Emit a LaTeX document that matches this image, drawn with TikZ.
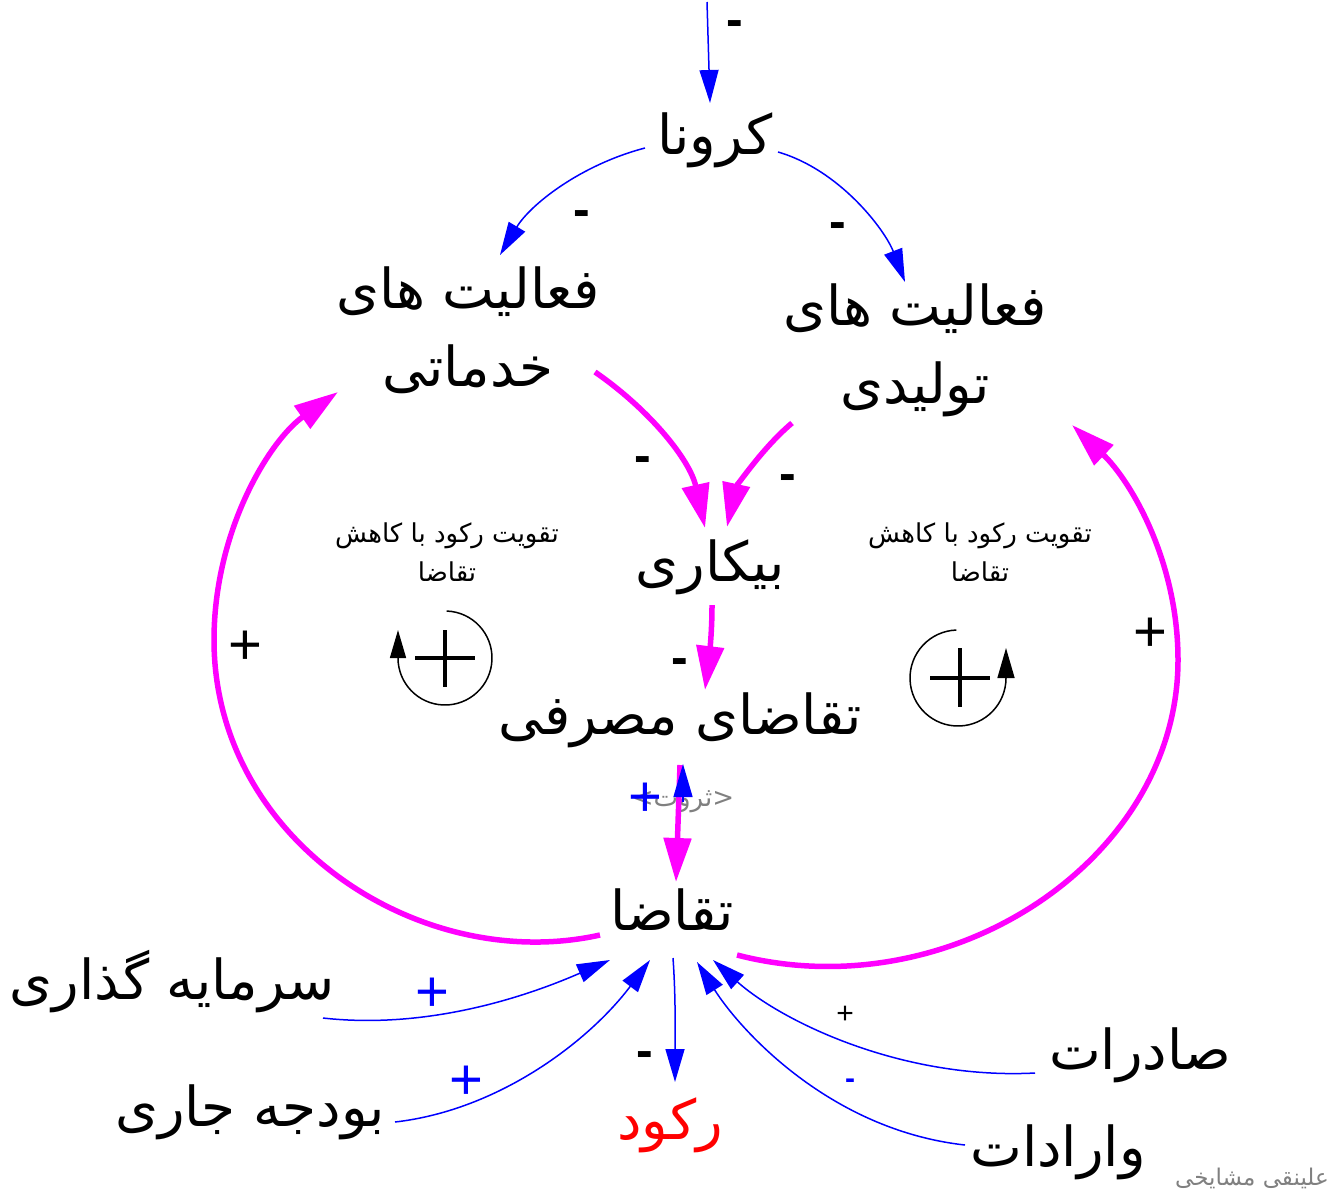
\documentclass[tikz,border=0pt]{standalone}
\usepackage{fontspec}
\setmainfont{Liberation Sans}
\newfontfamily\farsi[Script=Arabic]{DejaVu Sans}
\TeXXeTstate=1
\usetikzlibrary{arrows.meta,calc}
\definecolor{loopmag}{RGB}{255,0,255}
\definecolor{linkblue}{RGB}{0,0,255}
\newcommand{\rtl}[1]{\beginR #1\endR}

\begin{document}
\begin{tikzpicture}[x=1pt,y=-1pt,
    var/.style={font=\farsi\fontsize{55}{78}\selectfont,align=center,inner sep=0pt},
    note/.style={font=\farsi\fontsize{26}{39}\selectfont,align=center,inner sep=0pt},
    shadow/.style={font=\farsi\fontsize{#1}{#1}\selectfont,text=gray,inner sep=0pt},
    blink/.style={draw=linkblue,line width=1.5pt,-{Triangle[length=33pt,width=19pt]}},
    mlink/.style={draw=loopmag,line width=5.5pt,-{Triangle[length=44pt,width=27pt]}},
    minus/.style={font=\bfseries\fontsize{50}{50}\selectfont,inner sep=0pt},
    plus/.style={font=\fontsize{58}{58}\selectfont,inner sep=0pt}]
    \useasboundingbox (0,0) rectangle (1332,1192);

    \node[var] (korona) at (715,140) {\rtl{کرونا}};
    \node[var] (khadamat) at (468,330) {\rtl{فعالیت های}\\\rtl{خدماتی}};
    \node[var] (tolidi) at (915,350) {\rtl{فعالیت های}\\\rtl{تولیدی}};
    \node[var] (bikari) at (710,567) {\rtl{بیکاری}};
    \node[var] (masrafi) at (680,720) {\rtl{تقاضای مصرفی}};
    \node[var] (taghaza) at (672,910) {\rtl{تقاضا}};
    \node[shadow=26] (tharvat) at (683,802) {\rtl{<ثروت>}};
    \node[var] (sarmaye) at (172,982) {\rtl{سرمایه گذاری}};
    \node[var] (budje) at (250,1112) {\rtl{بودجه جاری}};
    \node[var,text=red] (rokud) at (670,1125) {\rtl{رکود}};
    \node[var] (saderat) at (1140,1055) {\rtl{صادرات}};
    \node[var] (varedat) at (1058,1152) {\rtl{وارادات}};
    \node[note] (loopL) at (447,552) {\rtl{تقویت رکود با کاهش}\\\rtl{تقاضا}};
    \node[note] (loopR) at (980,552) {\rtl{تقویت رکود با کاهش}\\\rtl{تقاضا}};
    \node[shadow=23] (name) at (1252,1178) {\rtl{علینقی مشایخی}};
    \coordinate (top) at (707,2);

    % corona and the two kinds of activity
    \draw[blink] (top) -- ($(korona)+(-5,-37)$);
    \draw[blink] ($(korona)+(-70,8)$) .. controls (580,165) and (530,205) .. ($(khadamat)+(32,-75)$);
    \draw[blink] ($(korona)+(63,12)$) .. controls (840,170) and (885,230) .. ($(tolidi)+(-10,-68)$);

    % inner chain
    \draw[mlink] ($(khadamat)+(127,42)$) .. controls (650,410) and (690,460) .. ($(bikari)+(-5,-39)$);
    \draw[mlink] ($(tolidi)+(-123,73)$) .. controls (760,450) and (735,490) .. ($(bikari)+(17,-40)$);
    \draw[mlink] ($(bikari)+(2,38)$) .. controls (712,640) and (708,665) .. ($(masrafi)+(25,-30)$);
    \draw[mlink] ($(masrafi)+(0,45)$) -- ($(taghaza)+(4,-28)$);
    \draw[blink] (tharvat.center) -- ($(masrafi)+(3,44)$);

    % the two big loops
    \draw[mlink] ($(taghaza)+(-72,25)$) .. controls (420,975) and (214,840) .. (214,640)
        .. controls (214,530) and (270,440) .. ($(khadamat)+(-130,62)$);
    \draw[mlink] ($(taghaza)+(65,45)$) .. controls (950,1010) and (1178,860) .. (1178,660)
        .. controls (1178,560) and (1130,480) .. ($(tolidi)+(157,75)$);

    % outside inputs
    \draw[blink] ($(sarmaye)+(151,36)$) .. controls (430,1030) and (530,995) .. ($(taghaza)+(-62,50)$);
    \draw[blink] ($(budje)+(145,10)$) .. controls (500,1110) and (590,1040) .. ($(taghaza)+(-22,50)$);
    \draw[blink] ($(taghaza)+(1,48)$) .. controls (676,1000) and (675,1040) .. ($(rokud)+(5,-43)$);
    \draw[blink] ($(saderat)+(-105,18)$) .. controls (900,1080) and (780,1020) .. ($(taghaza)+(41,50)$);
    \draw[blink] ($(varedat)+(-93,-7)$) .. controls (830,1130) and (740,1030) .. ($(taghaza)+(25,52)$);

    % polarities
    \node[minus] at (735,29) {-};
    \node[minus] at (582,219) {-};
    \node[minus] at (838,231) {-};
    \node[minus] at (643,465) {-};
    \node[minus] at (788,483) {-};
    \node[minus] at (680,667) {-};
    \node[minus] at (645,1060) {-};
    \node[plus] at (245,648) {+};
    \node[plus] at (1150,635) {+};
    \node[plus,text=linkblue] at (645,800) {+};
    \node[plus,text=linkblue] at (432,995) {+};
    \node[plus,text=linkblue] at (466,1083) {+};
    \node[font=\fontsize{30}{30}\selectfont,inner sep=0pt] at (845,1015) {+};
    \node[font=\bfseries\fontsize{30}{30}\selectfont,inner sep=0pt,text=linkblue] at (850,1084) {-};

    % loop markers
    \draw[line width=1.5pt,-{Triangle[length=28pt,width=16pt]}] (445,658) ++(-88:47) arc[start angle=-88,end angle=180,radius=47] -- ++(0,-28);
    \draw[line width=4pt] (415,658) -- (475,658) (445,630) -- (445,687);
    \draw[line width=1.5pt,-{Triangle[length=30pt,width=17pt]}] (958,678) ++(-92:48) arc[start angle=-92,end angle=-360,radius=48] -- ++(0,-30);
    \draw[line width=4pt] (930,678) -- (990,678) (960,648) -- (960,707);
\end{tikzpicture}
\end{document}
